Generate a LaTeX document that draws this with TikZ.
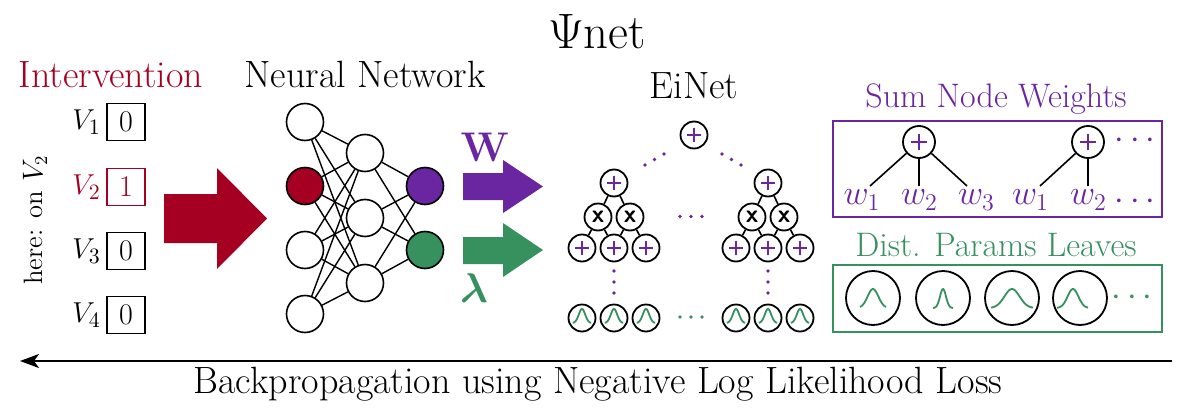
\documentclass[tikz,border=0pt]{standalone}
\usepackage{amsmath}
\usetikzlibrary{arrows.meta,calc}
\definecolor{ired}{RGB}{165,0,33}
\definecolor{ipurple}{RGB}{106,38,160}
\definecolor{igreen}{RGB}{55,145,95}
\tikzset{
  neuron/.style={circle, draw=black, line width=0.8pt, fill=white, minimum size=18.5pt, inner sep=0pt},
  nnedge/.style={line width=0.7pt},
  valbox/.style={draw, line width=0.8pt, minimum width=19pt, minimum height=18.5pt, inner sep=0pt, font=\fontsize{15}{17}\selectfont},
  vlab/.style={anchor=east, inner sep=2.5pt, font=\fontsize{15.5}{17}\selectfont},
  sumnode/.style={circle, draw=black, line width=0.9pt, fill=white, minimum size=#1, inner sep=0pt,
    path picture={\draw[ipurple, line width=1.4pt]
      ([xshift=-0.26*#1]path picture bounding box.center) -- ([xshift=0.26*#1]path picture bounding box.center)
      ([yshift=-0.26*#1]path picture bounding box.center) -- ([yshift=0.26*#1]path picture bounding box.center);}},
  prodnode/.style={circle, draw=black, line width=0.9pt, fill=white, minimum size=13.5pt, inner sep=0pt,
    font=\fontsize{12.5}{13}\selectfont\sffamily\bfseries},
  eleaf/.style={circle, draw=black, line width=0.9pt, fill=white, minimum size=13.5pt, inner sep=0pt,
    path picture={\draw[igreen, line width=0.9pt, shift={(path picture bounding box.center)}]
      plot[domain=-4.6:4.6, samples=40, smooth] ({\x*1pt},{(-2.5+7*exp(-(\x*\x)/(2*1.6*1.6)))*1pt});}},
  bleaf/.style n args={4}{circle, draw=black, line width=0.9pt, fill=white, minimum size=27pt, inner sep=0pt,
    path picture={\draw[igreen, line width=0.9pt, shift={(path picture bounding box.center)}]
      plot[domain=#3:#4, samples=60, smooth] ({\x*1pt},{(-5+9.5*exp(-((\x-(#2))*(\x-(#2)))/(2*#1*#1)))*1pt});}},
  treeedge/.style={line width=0.8pt},
  wlab/.style={text=ipurple, inner sep=1pt, font=\fontsize{18}{20}\selectfont},
  mainlab/.style={anchor=base, font=\fontsize{19}{22}\selectfont},
  boxtitle/.style={anchor=base, font=\fontsize{17}{19}\selectfont},
}
\begin{document}
\begin{tikzpicture}[x=0.5pt,y=-0.5pt]
\path[use as bounding box] (0,0) rectangle (1180,418);

% titles
\node[anchor=base, font=\fontsize{24.4}{28}\selectfont] (title) at (597,48) {$\Psi$net};
\node[mainlab, text=ired] (intlabel) at (111,87) {Intervention};
\node[mainlab] (nnlabel) at (365,87) {Neural Network};
\node[mainlab] (eilabel) at (694,98) {EiNet};

% intervention values
\node[valbox] (b1) at (126,122) {0};
\node[valbox, draw=ired, text=ired] (b2) at (126,187) {1};
\node[valbox] (b3) at (126,251) {0};
\node[valbox] (b4) at (126,315) {0};
\node[vlab] (v1) at (b1.west) {$V_1$};
\node[vlab, text=ired] (v2) at (b2.west) {$V_2$};
\node[vlab] (v3) at (b3.west) {$V_3$};
\node[vlab] (v4) at (b4.west) {$V_4$};
\node[rotate=90, font=\fontsize{13.3}{15}\selectfont] (here) at (35,220) {here: on $V_2$};

% red block arrow
\fill[ired] (164,194) -- (217,194) -- (217,168) -- (267,218.5) -- (217,269) -- (217,243) -- (164,243) -- cycle;

% neural network
\node[neuron] (a1) at (305,122) {};
\node[neuron, fill=ired] (a2) at (305,186) {};
\node[neuron] (a3) at (305,250) {};
\node[neuron] (a4) at (305,314) {};
\node[neuron] (h1) at (365,153) {};
\node[neuron] (h2) at (365,218) {};
\node[neuron] (h3) at (365,283) {};
\node[neuron, fill=ipurple] (o1) at (425,186) {};
\node[neuron, fill=igreen] (o2) at (425,250) {};
\foreach \i in {1,...,4}{\foreach \j in {1,2,3}{\draw[nnedge] (a\i) -- (h\j);}}
\foreach \j in {1,2,3}{\foreach \k in {1,2}{\draw[nnedge] (h\j) -- (o\k);}}

% W and lambda arrows
\fill[ipurple] (463,173) -- (503,173) -- (503,160) -- (543,186.5) -- (503,213) -- (503,200) -- (463,200) -- cycle;
\fill[igreen] (463,237) -- (503,237) -- (503,223) -- (543,250) -- (503,277) -- (503,264) -- (463,264) -- cycle;
\node[text=ipurple, font=\fontsize{22.5}{24}\selectfont] (Wlab) at (485,147) {$\mathbf{W}$};
\node[text=igreen, font=\fontsize{22.5}{24}\selectfont] (llab) at (474,288) {$\boldsymbol{\lambda}$};

% EiNet
\node[sumnode=13.5pt] (er) at (694,135) {};
\node[sumnode=13.5pt] (el) at (614,183) {};
\node[prodnode] (lp1) at (598,217) {x};
\node[prodnode] (lp2) at (630,217) {x};
\node[sumnode=13.5pt] (ls1) at (582,248) {};
\node[sumnode=13.5pt] (ls2) at (614,248) {};
\node[sumnode=13.5pt] (ls3) at (646,248) {};
\node[sumnode=13.5pt] (rl) at (768,183) {};
\node[prodnode] (rp1) at (752,217) {x};
\node[prodnode] (rp2) at (784,217) {x};
\node[sumnode=13.5pt] (rs1) at (736,248) {};
\node[sumnode=13.5pt] (rs2) at (768,248) {};
\node[sumnode=13.5pt] (rs3) at (800,248) {};
\draw[treeedge] (el) -- (lp1);
\draw[treeedge] (el) -- (lp2);
\draw[treeedge] (lp1) -- (ls1);
\draw[treeedge] (lp1) -- (ls2);
\draw[treeedge] (lp2) -- (ls2);
\draw[treeedge] (lp2) -- (ls3);
\draw[treeedge] (rl) -- (rp1);
\draw[treeedge] (rl) -- (rp2);
\draw[treeedge] (rp1) -- (rs1);
\draw[treeedge] (rp1) -- (rs2);
\draw[treeedge] (rp2) -- (rs2);
\draw[treeedge] (rp2) -- (rs3);
\node[eleaf] (lg1) at (582,318) {};
\node[eleaf] (lg2) at (614,318) {};
\node[eleaf] (lg3) at (646,318) {};
\node[eleaf] (rg1) at (736,318) {};
\node[eleaf] (rg2) at (768,318) {};
\node[eleaf] (rg3) at (800,318) {};
% dots
\foreach \p in {(645,165),(654.5,159.5),(664,154),(722,154),(731.5,159.5),(741,165),
                (614,271),(614,282),(614,293),(768,271),(768,282),(768,293),
                (680,216.5),(691,216.5),(702,216.5)}{\fill[ipurple] \p circle[radius=0.95pt];}
\foreach \p in {(680,317),(691,317),(702,317)}{\fill[igreen] \p circle[radius=0.95pt];}

% Sum node weights box
\node[boxtitle, text=ipurple] (wtitle) at (996,107) {Sum Node Weights};
\node[draw=ipurple, line width=0.9pt, minimum width=164.5pt, minimum height=48pt, inner sep=0pt] (wbox) at (997.5,169) {};
\node[sumnode=16pt] (s1) at (919,142) {};
\node[sumnode=16pt] (s2) at (1088,142) {};
\node[wlab] (w1) at (862,200) {$w_1$};
\node[wlab] (w2) at (919.5,200) {$w_2$};
\node[wlab] (w3) at (976.5,200) {$w_3$};
\node[wlab] (w4) at (1030.5,200) {$w_1$};
\node[wlab] (w5) at (1088.5,200) {$w_2$};
\coordinate (t1) at (870,186);
\coordinate (t2) at (919,186);
\coordinate (t3) at (967,186);
\coordinate (t4) at (1040,186);
\coordinate (t5) at (1088,186);
\draw[treeedge] (s1) -- (t1);
\draw[treeedge] (s1) -- (t2);
\draw[treeedge] (s1) -- (t3);
\draw[treeedge] (s2) -- (t4);
\draw[treeedge] (s2) -- (t5);
\node[text=ipurple, font=\fontsize{16}{18}\selectfont] (wd1) at (1138,141) {$\cdots$};
\node[text=ipurple, font=\fontsize{16}{18}\selectfont] (wd2) at (1138,202) {$\cdots$};

% Distribution parameter leaves box
\node[boxtitle, text=igreen] (gtitle) at (996,256) {Dist. Params Leaves};
\node[draw=igreen, line width=0.9pt, minimum width=164.5pt, minimum height=33.5pt, inner sep=0pt] (gbox) at (997.5,298.5) {};
\node[bleaf={2.7}{0}{-6.5}{6.5}] (g1) at (873,298) {};
\node[bleaf={1.5}{0}{-5}{5}] (g2) at (943,298) {};
\node[bleaf={3.8}{0}{-10.5}{10.5}] (g3) at (1012,298) {};
\node[bleaf={2.7}{-3.5}{-11.5}{4}] (g4) at (1080,298) {};
\node[text=igreen, font=\fontsize{16}{18}\selectfont] (gd) at (1135,298) {$\cdots$};

% backpropagation arrow
\coordinate (bpR) at (1172,361);
\coordinate (bpL) at (20,361);
\draw[line width=1pt, -{Stealth[length=9.5pt, width=7pt, inset=2.5pt]}] (bpR) -- (bpL);
\node[mainlab] (bplab) at (598,393) {Backpropagation using Negative Log Likelihood Loss};
\end{tikzpicture}
\end{document}
